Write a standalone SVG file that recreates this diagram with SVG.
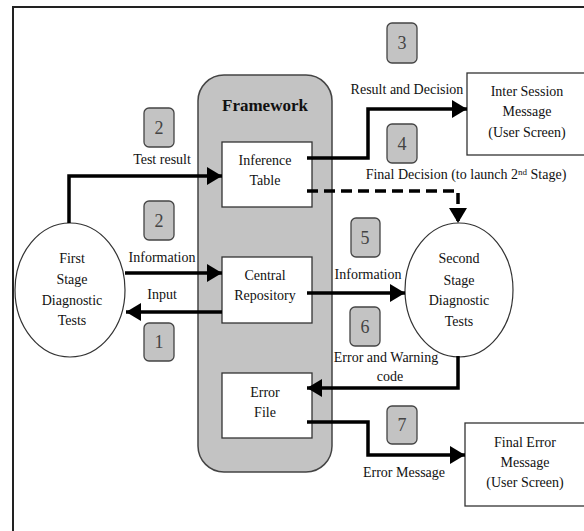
<svg xmlns="http://www.w3.org/2000/svg" width="584" height="531" viewBox="0 0 584 531">
<defs>
<style>
text{font-size:14px;fill:#111;text-anchor:middle}
.fw{font-size:17px;font-weight:bold}
.num{font-size:18px;fill:#444}
.badge{fill:#c3c3c3;stroke:#444;stroke-width:1.3}
.box{fill:#fff;stroke:#333;stroke-width:1.3}
.node{fill:#fff;stroke:#333;stroke-width:1.2}
.conn{fill:none;stroke:#000;stroke-width:3.5}
.dash{stroke-dasharray:11 6}
</style>
<marker id="ah" markerUnits="userSpaceOnUse" viewBox="0 0 15 18" refX="15" refY="9" markerWidth="15" markerHeight="18" orient="auto">
<path d="M0,0 L15,9 L0,18 z" fill="#000"/>
</marker>
</defs>
<rect width="584" height="531" fill="#fff"/>
<path d="M13,531 V7 H584" fill="none" stroke="#222" stroke-width="2"/>
<g font-family="Liberation Serif, Times New Roman, serif">
<g id="framework">
<rect x="198" y="75" width="134" height="397" rx="26" fill="#c3c3c3" stroke="#444" stroke-width="1.5"/>
<text class="fw" x="265" y="111">Framework</text>
</g>
<g id="inference-table">
<rect class="box" x="222" y="142" width="90" height="65"/>
<text x="265" y="165">Inference</text>
<text x="265" y="185">Table</text>
</g>
<g id="central-repository">
<rect class="box" x="222" y="257" width="90" height="66"/>
<text x="265" y="280">Central</text>
<text x="265" y="300">Repository</text>
</g>
<g id="error-file">
<rect class="box" x="222" y="373" width="90" height="65"/>
<text x="265" y="397">Error</text>
<text x="265" y="417">File</text>
</g>
<g id="first-stage">
<ellipse class="node" cx="70" cy="290" rx="55" ry="67"/>
<text x="72" y="263">First</text>
<text x="72" y="284">Stage</text>
<text x="72" y="305">Diagnostic</text>
<text x="72" y="325">Tests</text>
</g>
<g id="second-stage">
<ellipse class="node" cx="459" cy="290" rx="54" ry="67"/>
<text x="459" y="263">Second</text>
<text x="459" y="285">Stage</text>
<text x="459" y="305">Diagnostic</text>
<text x="459" y="326">Tests</text>
</g>
<g id="inter-session">
<rect class="box" x="467" y="73" width="122" height="82"/>
<text x="527" y="96">Inter Session</text>
<text x="527" y="116">Message</text>
<text x="527" y="137">(User Screen)</text>
</g>
<g id="final-error">
<rect class="box" x="465" y="423" width="124" height="83"/>
<text x="525" y="447">Final Error</text>
<text x="525" y="467">Message</text>
<text x="525" y="487">(User Screen)</text>
</g>

<g id="badges">
<rect class="badge" x="144" y="108" width="30" height="39" rx="5"/><text class="num" x="159" y="134">2</text>
<rect class="badge" x="144" y="201" width="30" height="39" rx="5"/><text class="num" x="159" y="227">2</text>
<rect class="badge" x="144" y="323" width="30" height="38" rx="5"/><text class="num" x="159" y="348">1</text>
<rect class="badge" x="387" y="23" width="30" height="40" rx="5"/><text class="num" x="402" y="49">3</text>
<rect class="badge" x="387" y="124" width="30" height="39" rx="5"/><text class="num" x="402" y="150">4</text>
<rect class="badge" x="351" y="218" width="29" height="39" rx="5"/><text class="num" x="365" y="244">5</text>
<rect class="badge" x="350" y="307" width="30" height="39" rx="5"/><text class="num" x="365" y="333">6</text>
<rect class="badge" x="387" y="406" width="30" height="38" rx="5"/><text class="num" x="402" y="431">7</text>
</g>

<g id="connectors">
<path class="conn" d="M69,223 V176 H222" marker-end="url(#ah)"/>
<path class="conn" d="M125,273 H222" marker-end="url(#ah)"/>
<path class="conn" d="M222,312 H126" marker-end="url(#ah)"/>
<path class="conn" d="M307,158 H368 V109 H467" marker-end="url(#ah)"/>
<path class="conn dash" d="M307,191 H458 V223" marker-end="url(#ah)"/>
<path class="conn" d="M307,293 H405" marker-end="url(#ah)"/>
<path class="conn" d="M458,356 V388 H307" marker-end="url(#ah)"/>
<path class="conn" d="M307,422 H368 V455 H465" marker-end="url(#ah)"/>
</g>

<g id="labels">
<text x="162" y="164">Test result</text>
<text x="162" y="262">Information</text>
<text x="162" y="299">Input</text>
<text x="407" y="94">Result and Decision</text>
<text x="466" y="179">Final Decision (to launch 2<tspan font-size="9" dy="-4">nd</tspan><tspan dy="4"> Stage)</tspan></text>
<text x="368" y="279">Information</text>
<text x="386" y="362">Error  and Warning</text>
<text x="390" y="381">code</text>
<text x="404" y="477">Error Message</text>
</g>
</g>
</svg>
